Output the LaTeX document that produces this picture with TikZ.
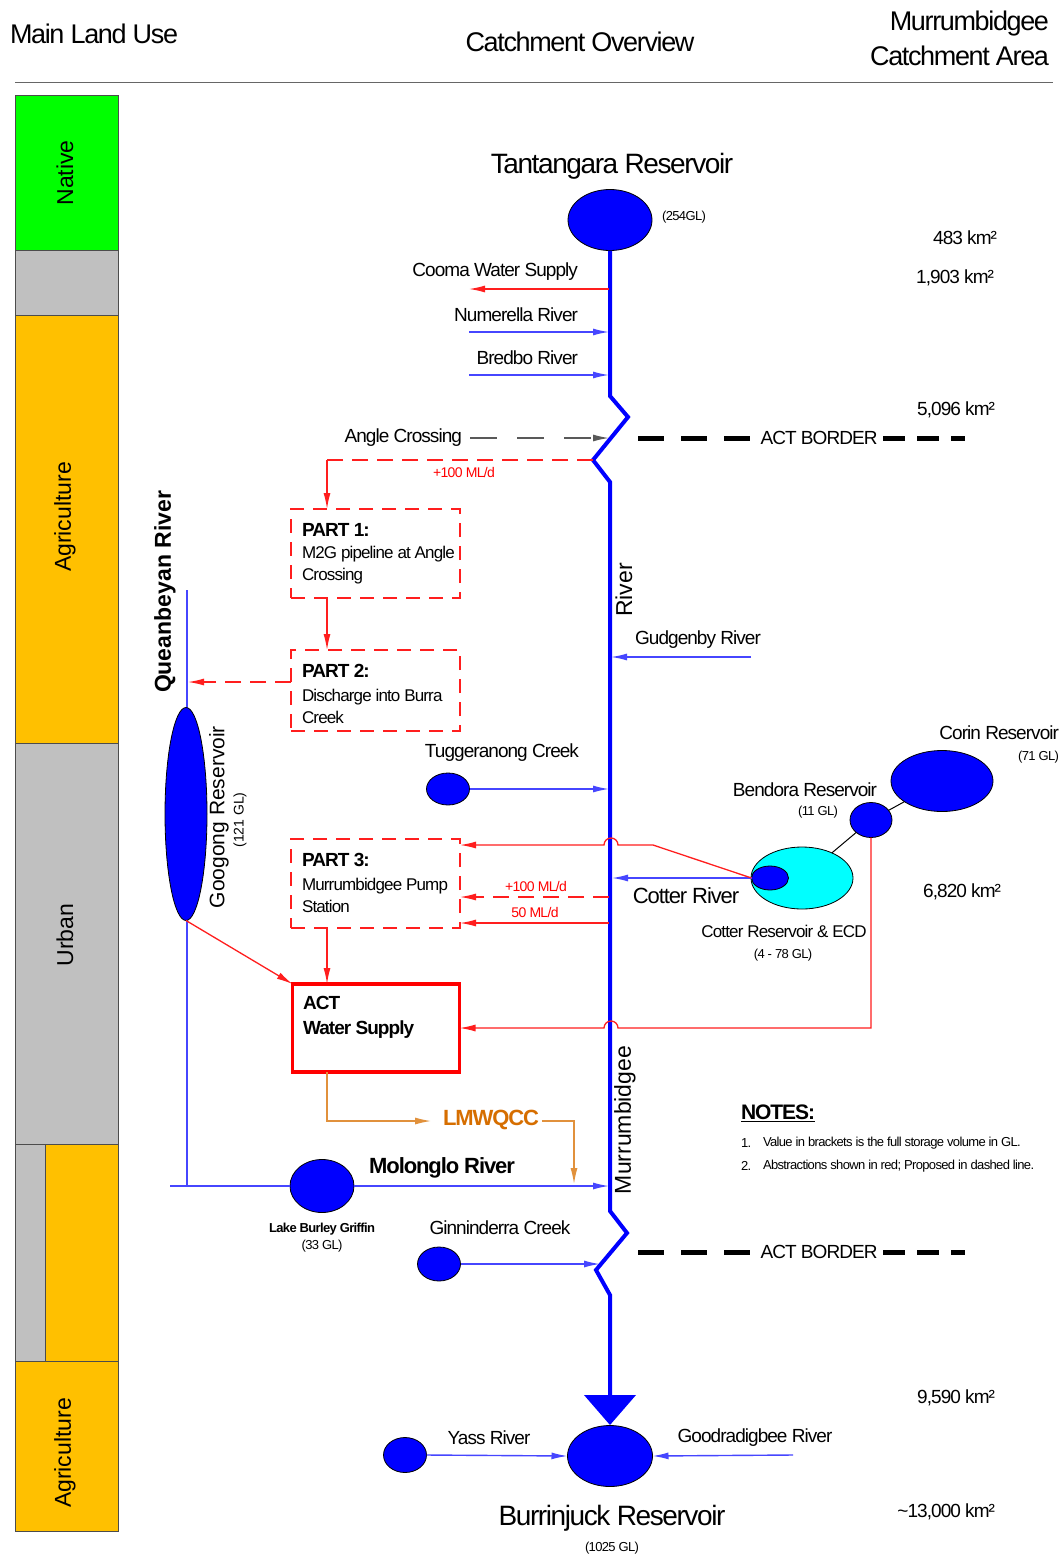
\documentclass[tikz,border=0pt]{standalone}
\usepackage{fontspec}
\setmainfont{Liberation Sans}[LetterSpace=-5]
\newfontfamily\rotf{Liberation Sans}
\usetikzlibrary{arrows.meta,shapes.geometric}
\definecolor{lgray}{RGB}{192,192,192}
\definecolor{agri}{RGB}{255,192,0}
\definecolor{nat}{RGB}{0,255,0}
\definecolor{lmw}{RGB}{214,110,0}
\definecolor{lmwline}{RGB}{225,145,60}
\definecolor{tblue}{RGB}{70,70,255}
\definecolor{rline}{RGB}{255,30,30}
\definecolor{cyanres}{RGB}{0,255,255}
\newcommand{\fsz}[2]{\fontsize{#1}{#2}\selectfont}
\begin{document}
\begin{tikzpicture}[x=1pt,y=-1pt,
  every node/.style={inner sep=0pt,outer sep=0pt,text=black},
  arr/.style={-{Latex[length=16pt,width=7pt]}},
  res/.style={ellipse,draw=black,line width=0.8pt,fill=blue,inner sep=0pt},
  river/.style={draw=blue,line width=4pt,line join=miter},
  trib/.style={draw=tblue,line width=1.4pt,arr},
  abst/.style={draw=rline,line width=1.3pt,arr},
  prop/.style={draw=rline,line width=1.3pt,dash pattern=on 16pt off 9pt},
  partbox/.style={draw=rline,line width=1.2pt,dash pattern=on 14pt off 9pt,minimum width=169pt},
  border/.style={draw=black,line width=5pt,dash pattern=on 26pt off 17pt},
  borderr/.style={draw=black,line width=5pt,dash pattern=on 22pt off 12pt},
  lbl/.style={font=\fsz{19}{22}},
  small/.style={font=\fsz{13}{15}},
  km/.style={font=\fsz{19}{22},anchor=east},
  rot/.style={rotate=90,font=\rotf\fsz{23}{25}},
  lu/.style={draw=black!70,line width=1pt}
]
\clip (0,0) rectangle (1061,1555);
\fill[white] (0,0) rectangle (1061,1555);

% ---------- header ----------
\node[anchor=west,font=\fsz{27}{30}] (hmain) at (10,34) {Main Land Use};
\node[font=\fsz{27}{30}] (hcat) at (580,42) {Catchment Overview};
\node[anchor=east,align=right,font=\fsz{27}{35}] (hmurr) at (1049,38) {Murrumbidgee\\Catchment Area};
\draw[black!60,line width=1pt] (15,82) -- (1053,82);

% ---------- land use bar ----------
\filldraw[lu,fill=nat] (15,95) rectangle (118,250);
\filldraw[lu,fill=lgray] (15,250) rectangle (118,315);
\filldraw[lu,fill=agri] (15,315) rectangle (118,743);
\filldraw[lu,fill=lgray] (15,743) rectangle (118,1144);
\filldraw[lu,fill=lgray] (15,1144) rectangle (45,1361);
\filldraw[lu,fill=agri] (45,1144) rectangle (118,1361);
\filldraw[lu,fill=agri] (15,1361) rectangle (118,1531);
\node[rot] (lunat) at (65,173) {Native};
\node[rot] (luag1) at (65,517) {Agriculture};
\node[rot] (luurb) at (65,935) {Urban};
\node[rot] (luag2) at (65,1453) {Agriculture};

% ---------- main river ----------
\node[res,minimum width=84pt,minimum height=61pt] (tant) at (610,220) {};
\node[font=\fsz{28}{30}] (tantl) at (612,166) {Tantangara Reservoir};
\node[small] (tantv) at (684,217) {(254GL)};

\coordinate (r1) at (610,396);
\coordinate (z1) at (628,417);
\coordinate (z2) at (593,460);
\coordinate (r2) at (610,482);
\coordinate (r3) at (610,1211);
\coordinate (z3) at (627,1233);
\coordinate (z4) at (596,1270);
\coordinate (r4) at (610,1295);
\coordinate (r5) at (610,1397);
\draw[river] (tant.south) -- (r1) -- (z1) -- (z2) -- (r2) -- (r3) -- (z3) -- (z4) -- (r4) -- (r5);
\node[res,minimum width=85pt,minimum height=61pt] (burr) at (610,1456) {};
\fill[blue] (584,1395) -- (636,1395) -- (610,1425) -- cycle;
\node[font=\fsz{28}{30}] (burrl) at (612,1518) {Burrinjuck Reservoir};
\node[small] (burrv) at (612,1548) {(1025 GL)};

\node[rot] (rivl) at (624,590) {River};
\node[rot] (murl) at (625,1120) {Murrumbidgee};

% ---------- upper tributaries ----------
\coordinate (coomaR) at (609,289);
\coordinate (coomaL) at (469,289);
\draw[abst] (coomaR) -- (coomaL);
\node[lbl,anchor=east] (coomal) at (578,272) {Cooma Water Supply};

\coordinate (numL) at (469,332);
\coordinate (numR) at (609,332);
\draw[trib] (numL) -- (numR);
\node[lbl,anchor=east] (numl) at (578,315) {Numerella River};

\coordinate (breL) at (469,375);
\coordinate (breR) at (609,375);
\draw[trib] (breL) -- (breR);
\node[lbl,anchor=east] (brel) at (578,358) {Bredbo River};

\node[lbl,anchor=east] (angl) at (462,438) {Angle Crossing};
\coordinate (angR) at (609,438);
\draw[draw=black!65,line width=1.3pt,dash pattern=on 27pt off 20pt,-{Latex[length=16pt,width=7pt]}] ([xshift=8pt]angl.east) -- (angR);

% ACT borders
\node[lbl] (bord1) at (819,438) {ACT BORDER};
\coordinate (b1a) at (638,438);
\coordinate (b1b) at (965,438);
\draw[border] (b1a) -- ([xshift=-4pt]bord1.west);
\draw[borderr] ([xshift=6pt]bord1.east) -- (b1b);
\node[lbl] (bord2) at (819,1252) {ACT BORDER};
\coordinate (b2a) at (638,1252);
\coordinate (b2b) at (965,1252);
\draw[border] (b2a) -- ([xshift=-4pt]bord2.west);
\draw[borderr] ([xshift=6pt]bord2.east) -- (b2b);

% km labels
\node[km] (km1) at (997,238) {483 km²};
\node[km] (km2) at (994,278) {1,903 km²};
\node[km] (km3) at (995,410) {5,096 km²};
\node[km] (km4) at (1001,892) {6,820 km²};
\node[km] (km5) at (995,1398) {9,590 km²};
\node[km] (km6) at (995,1512) {\textasciitilde 13,000 km²};

% ---------- proposed parts ----------
\node[partbox,minimum height=89pt] (p1) at (375.5,553.5) {};
\node[partbox,minimum height=81pt] (p2) at (375.5,690.5) {};
\node[partbox,minimum height=89pt] (p3) at (375.5,883.5) {};
\node[draw=red,line width=3.4pt,minimum width=167pt,minimum height=88pt] (act) at (376,1028) {};

\node[anchor=west,font=\bfseries\fsz{19}{22}] (p1t) at (302,530) {PART 1:};
\node[anchor=west,align=left,font=\fsz{17}{22}] (p1b) at (302,565) {M2G pipeline at Angle\\Crossing};
\node[anchor=west,font=\bfseries\fsz{19}{22}] (p2t) at (302,671) {PART 2:};
\node[anchor=west,align=left,font=\fsz{17}{22}] (p2b) at (302,706) {Discharge into Burra\\Creek};
\node[anchor=west,font=\bfseries\fsz{19}{22}] (p3t) at (302,860) {PART 3:};
\node[anchor=west,align=left,font=\fsz{17}{22}] (p3b) at (302,895) {Murrumbidgee Pump\\Station};
\node[anchor=west,align=left,font=\bfseries\fsz{19}{25}] (actt) at (303,1017) {ACT\\Water Supply};

\coordinate (angz) at (593,460);
\coordinate (angc) at (327,460);
\draw[prop] (angz) -- (angc);
\draw[draw=rline,line width=1.3pt,arr] (angc) -- (p1.north -| angc);
\node[font=\fsz{14}{16},text=red] (l100a) at (464,472) {+100 ML/d};
\draw[draw=rline,line width=1.3pt,arr] (p1.south -| angc) -- (p2.north -| angc);
\draw[draw=rline,line width=1.3pt,dash pattern=on 16pt off 9pt,arr] (p2.west |- 0,682) -- (188,682);
\draw[draw=rline,line width=1.3pt,arr] (p3.south -| angc) -- (act.north -| angc);

% ---------- Queanbeyan / Googong ----------
\coordinate (qtop) at (187,590);
\coordinate (qbot) at (187,1186);
\draw[tblue,line width=1.3pt] (qtop) -- (qbot);
\node[res,minimum width=42pt,minimum height=213pt] (goog) at (186,814) {};
\node[rot,font=\rotf\bfseries\fsz{23}{25}] (queal) at (165,592) {Queanbeyan River};
\node[rot,font=\rotf\fsz{21}{23}] (googl) at (219,817) {Googong Reservoir};
\node[rot,font=\rotf\fsz{14}{16}] (googv) at (240,820) {(121 GL)};
\draw[abst] (goog.south) -- (act.north west);

% ---------- Tuggeranong, Gudgenby ----------
\node[res,minimum width=43pt,minimum height=32pt] (tugg) at (448,789) {};
\coordinate (tuggR) at (609,789);
\draw[trib] (tugg.east) -- (tuggR);
\node[lbl] (tuggl) at (502,753) {Tuggeranong Creek};

\coordinate (gudR) at (751,657);
\coordinate (gudL) at (611,657);
\draw[trib] (gudR) -- (gudL);
\node[lbl] (gudl) at (698,640) {Gudgenby River};

% ---------- Cotter system ----------
\node[ellipse,draw=black,line width=0.8pt,fill=cyanres,minimum width=102pt,minimum height=62pt] (cot) at (802,878) {};
\node[res,minimum width=37pt,minimum height=24pt] (cotin) at (770,878) {};
\node[res,minimum width=42pt,minimum height=35pt] (bend) at (871,820) {};
\node[res,minimum width=102pt,minimum height=61pt] (corin) at (942,781) {};
\draw[black,line width=1pt] (corin) -- (bend);
\draw[black,line width=1pt] (bend) -- (cot);
\node[lbl] (bendl) at (805,790) {Bendora Reservoir};
\node[small] (bendv) at (818,812) {(11 GL)};
\node[lbl,anchor=east] (corl) at (1059,733) {Corin Reservoir};
\node[small,anchor=east] (corv) at (1059,757) {(71 GL)};
\node[font=\fsz{17}{20}] (cotl) at (784,931) {Cotter Reservoir \& ECD};
\node[small] (cotv) at (783,955) {(4 - 78 GL)};
\node[font=\fsz{22}{24}] (cotrl) at (686,896) {Cotter River};

\coordinate (cotR) at (612,878);
\draw[trib] (cotin.west) -- (cotR);
\coordinate (ck) at (653,845);
\draw[abst] (cotin.west) -- (ck) -- (618,845) arc[start angle=0,end angle=-180,radius=7] -- (p3.east |- ck);
\coordinate (m100) at (609,897);
\draw[draw=rline,line width=1.3pt,dash pattern=on 16pt off 9pt,arr] (m100) -- (p3.east |- m100);
\node[font=\fsz{14}{16},text=red] (l100b) at (536,886) {+100 ML/d};
\coordinate (m50) at (609,923);
\draw[abst] (m50) -- (p3.east |- m50);
\node[font=\fsz{14}{16},text=red] (l50) at (535,912) {50 ML/d};

\coordinate (bk) at (871,1028);
\draw[abst] (bend.south) -- (bk) -- (618,1028) arc[start angle=0,end angle=-180,radius=7] -- (act.east);

% ---------- LMWQCC, Molonglo ----------
\node[font=\bfseries\fsz{22}{24},text=lmw] (lmwq) at (491,1120) {LMWQCC};
\coordinate (lm1) at (327,1121);
\coordinate (lm2) at (574,1121);
\coordinate (lm3) at (574,1184);
\draw[lmwline,line width=1.3pt,arr] (act.south -| lm1) -- (lm1) -- ([xshift=-12pt]lmwq.west |- lm1);
\draw[lmwline,line width=1.3pt,arr] ([xshift=3pt]lmwq.east |- lm2) -- (lm2) -- (lm3);

\coordinate (molL) at (170,1186);
\coordinate (molR) at (609,1186);
\node[res,minimum width=64pt,minimum height=53pt] (lbg) at (322,1186) {};
\draw[tblue,line width=1.3pt] (molL) -- (lbg.west);
\draw[trib] (lbg.east) -- (molR);
\node[font=\bfseries\fsz{22}{24}] (moll) at (442,1168) {Molonglo River};
\node[font=\bfseries\fsz{13}{15}] (lbgl) at (322,1229) {Lake Burley Griffin};
\node[small] (lbgv) at (322,1246) {(33 GL)};

\node[res,minimum width=43pt,minimum height=34pt] (ginn) at (439,1264) {};
\coordinate (ginR) at (600,1264);
\draw[trib] (ginn.east) -- (ginR);
\node[lbl] (ginl) at (500,1228) {Ginninderra Creek};

% ---------- Notes ----------
\node[anchor=west,font=\bfseries\fsz{21}{23}] (notes) at (741,1113) {\underline{NOTES:}};
\node[anchor=west,font=\fsz{13}{15}] (n1a) at (741,1143) {1.};
\node[anchor=west,font=\fsz{13}{15}] (n1b) at (763,1143) {Value in brackets is the full storage volume in GL.};
\node[anchor=west,font=\fsz{13}{15}] (n2a) at (741,1166) {2.};
\node[anchor=west,font=\fsz{13}{15}] (n2b) at (763,1166) {Abstractions shown in red; Proposed in dashed line.};

% ---------- Yass, Goodradigbee ----------
\node[res,minimum width=43pt,minimum height=35pt] (yass) at (405,1455) {};
\draw[trib] (yass.east) -- (burr.west);
\node[lbl] (yassl) at (489,1438) {Yass River};
\coordinate (goodR) at (793,1455);
\draw[trib] (goodR) -- (burr.east);
\node[lbl] (goodl) at (755,1438) {Goodradigbee River};
\end{tikzpicture}
\end{document}
